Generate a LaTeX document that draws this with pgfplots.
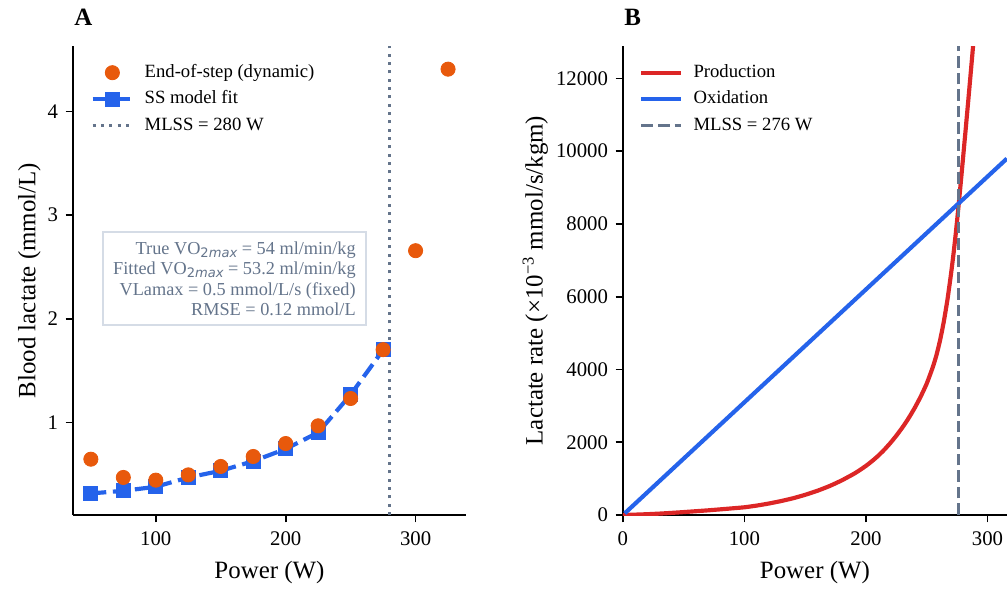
\documentclass[border=0pt]{standalone}
\usepackage{fontspec}
\setmainfont{Liberation Serif}
\newfontfamily\dejavu{DejaVu Sans}
\usepackage{pgfplots}
\pgfplotsset{compat=1.18}

\definecolor{dynorange}{HTML}{E8590C}
\definecolor{fitblue}{HTML}{2563EB}
\definecolor{prodred}{HTML}{DC2626}
\definecolor{slate}{HTML}{64748B}
\definecolor{boxedge}{HTML}{D5DCE6}

% subscript in the style of mathtext: upright 2, oblique "max"
\newcommand{\vomax}{VO\raisebox{-0.35ex}{\fontsize{6.3}{7}\dejavu 2\itshape max}}

\pgfplotsset{
  panel/.style={
    scale only axis,
    axis x line*=bottom, axis y line*=left,
    axis line style={-, line width=0.8bp, black},
    every tick/.style={line width=0.8bp, black},
    tick align=outside, major tick length=3.5bp,
    tick label style={font=\fontsize{10}{12}\selectfont},
    /pgf/number format/assume math mode=true,
    /pgf/number format/1000 sep={},
    scaled ticks=false,
    xticklabel style={anchor=north, yshift=-4.5bp, inner sep=0pt},
    yticklabel style={anchor=east, xshift=-3.5bp, inner sep=0pt},
    label style={font=\fontsize{12}{14}\selectfont},
    every axis title/.style={anchor=base west, inner sep=0pt,
      font=\bfseries\fontsize{12}{14}\selectfont},
    legend style={draw=none, fill=none, anchor=north west, inner sep=0pt,
      font=\fontsize{9}{11}\selectfont, row sep=4.5bp,
      nodes={inner sep=0pt, text height=6.3bp, text depth=1.9bp},
      /tikz/every odd column/.append style={column sep=5bp}},
    legend cell align=left,
    legend image code/.code={
      \draw[mark repeat=2, mark phase=2, #1]
        plot coordinates {(0bp,0bp) (9.5bp,0bp) (19bp,0bp)};},
  }
}

% end-of-step lactate, dynamic simulation
\pgfplotstableread{
P    La
50   0.647
75   0.471
100  0.445
125  0.496
150  0.577
175  0.673
200  0.798
225  0.969
250  1.232
275  1.703
300  2.657
325  4.407
}\dyntable

% steady-state model fit
\pgfplotstableread{
P    La
50   0.317
75   0.342
100  0.381
125  0.471
150  0.535
175  0.628
200  0.746
225  0.904
250  1.269
275  1.700
}\fittable

% lactate production rate vs power
\pgfplotstableread{
P    rate
0    0
10   10
20   22
30   38
40   58
50   80
60   104
70   128
80   155
90   183
100  212
110  258
120  315
130  382
140  460
150  555
160  665
170  795
180  950
190  1130
195  1235
200  1350
205  1480
210  1625
215  1790
220  1975
225  2180
230  2405
235  2655
240  2935
245  3250
250  3610
255  4060
258  4390
261  4800
264  5300
267  5900
270  6620
272  7160
274  7760
276  8420
278  9120
280  9840
282  10570
284  11310
286  12060
288  12820
290  13590
}\prodtable

% lactate oxidation rate vs power
\pgfplotstableread{
P    rate
1.5  46
316  9796
}\oxtable

\begin{document}
\begin{tikzpicture}
\useasboundingbox (0,0) rectangle (483.84bp,282.24bp);

% ---------------- panel A ----------------
\begin{axis}[panel,
  at={(35.04bp,35.04bp)}, anchor=south west,
  width=188.6bp, height=225.1bp,
  xmin=36.25, xmax=338.75, ymin=0.109, ymax=4.63,
  xtick={100,200,300}, ytick={1,2,3,4},
  xlabel={Power (W)}, ylabel={Blood lactate (mmol/L)},
  xlabel style={at={(axis description cs:0.5,0)}, anchor=base, yshift=-30.5bp},
  ylabel style={at={([xshift=-18bp]axis description cs:0,0.5)}, anchor=base},
  title={A}, title style={at={([xshift=0.5bp,yshift=10bp]axis description cs:0,1)}},
  legend style={at={([xshift=8.2bp,yshift=-8.5bp]axis description cs:0,1)}},
  clip mode=individual,
]
\addlegendimage{only marks, mark=*, mark size=3.4bp, color=dynorange}
\addlegendentry{End-of-step (dynamic)}
\addlegendimage{fitblue, line width=2bp, dash pattern=on 7.4bp off 3.2bp,
  mark=square*, mark size=2.6bp, mark options={solid}}
\addlegendentry{SS model fit}
\addlegendimage{slate, line width=1.5bp, dash pattern=on 1.5bp off 2.5bp}
\addlegendentry{MLSS = 280 W}

\addplot[forget plot, slate, line width=1.5bp, dash pattern=on 1.5bp off 2.5bp]
  coordinates {(280,0.109) (280,4.63)};
\addplot[forget plot, fitblue, line width=2bp, dash pattern=on 7.4bp off 3.2bp,
  mark=square*, mark size=2.6bp, mark options={solid}]
  table[x=P, y=La] {\fittable};
\addplot[forget plot, only marks, mark=*, mark size=3.4bp, color=dynorange]
  table[x=P, y=La] {\dyntable};

\node[anchor=east, draw=boxedge, line width=0.8bp, fill=white, fill opacity=0.85,
  text opacity=1, text=slate, align=right, inner xsep=5bp, inner ysep=4.5bp,
  font=\fontsize{8.8}{9.8}\selectfont]
  at (rel axis cs:0.748,0.504)
  {True \vomax{} = 54 ml/min/kg\\
   Fitted \vomax{} = 53.2 ml/min/kg\\
   VLamax = 0.5 mmol/L/s (fixed)\\
   RMSE = 0.12 mmol/L};
\end{axis}

% ---------------- panel B ----------------
\begin{axis}[panel,
  at={(299.0bp,35.04bp)}, anchor=south west,
  width=184.3bp, height=225.1bp,
  xmin=0, xmax=316, ymin=0, ymax=12890,
  xtick={0,100,200,300}, ytick={0,2000,4000,6000,8000,10000,12000},
  xlabel={Power (W)},
  ylabel={Lactate rate (×10\textsuperscript{−3} mmol/s/kgm)},
  xlabel style={at={(axis description cs:0.5,0)}, anchor=base, yshift=-30.5bp},
  ylabel style={at={([xshift=-38.5bp]axis description cs:0,0.5)}, anchor=base},
  title={B}, title style={at={([xshift=0.5bp,yshift=10bp]axis description cs:0,1)}},
  legend style={at={([xshift=7.7bp,yshift=-8.5bp]axis description cs:0,1)}},
]
\addplot[prodred, line width=2bp, line join=round, smooth, tension=0.3]
  table[x=P, y=rate] {\prodtable};
\addlegendentry{Production}
\addplot[fitblue, line width=2bp] table[x=P, y=rate] {\oxtable};
\addlegendentry{Oxidation}
\addplot[slate, line width=1.5bp, dash pattern=on 5.55bp off 2.4bp]
  coordinates {(276,0) (276,12890)};
\addlegendentry{MLSS = 276 W}
\end{axis}
\end{tikzpicture}
\end{document}
